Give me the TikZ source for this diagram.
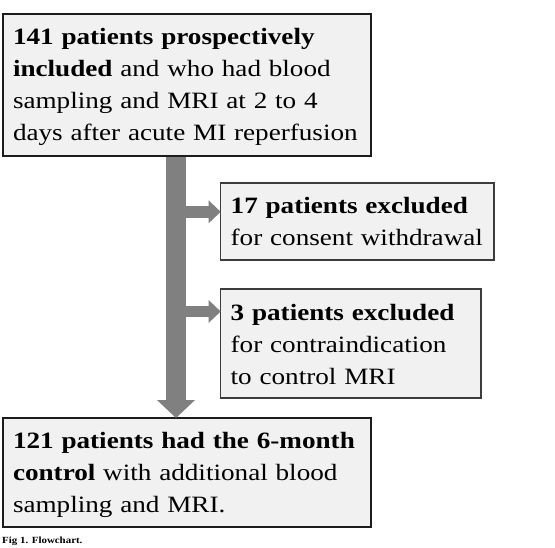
\documentclass[tikz,border=0pt]{standalone}
\usepackage{fontspec}
\setmainfont{Liberation Serif}[FakeStretch=1.16]
\usetikzlibrary{arrows.meta}
\definecolor{boxfill}{HTML}{F1F1F1}
\definecolor{darkline}{HTML}{1C1C1C}
\definecolor{sideline}{HTML}{3C3C3C}
\definecolor{arrowgray}{HTML}{808080}
\begin{document}
\begin{tikzpicture}[x=1pt,y=-1pt,
  box/.style={draw=darkline, line width=1.8pt, fill=boxfill, inner xsep=10pt, inner ysep=0pt,
    outer sep=0pt, anchor=north west, align=left, text height=30pt,
    font=\fontsize{23.4}{32}\selectfont},
  sidebox/.style={box, draw=sideline, line width=1.3pt},
  stemarrow/.style={draw=arrowgray, line width=20pt, -{Triangle[length=18pt,width=37pt]}},
  brancharrow/.style={draw=arrowgray, line width=11.5pt, -{Triangle[length=12pt,width=22pt]}}]
\fill[white] (0,0) rectangle (555,547);
\useasboundingbox (0,0) rectangle (555,547);
\node[box, text width=348pt, text depth=112pt] (top) at (3,14)
  {\mbox{\textbf{141 patients prospectively}}\\
   \mbox{\textbf{included} and who had blood}\\
   \mbox{sampling and MRI at 2 to 4}\\
   \mbox{days after acute MI reperfusion}};
\node[sidebox, text width=253.3pt, text depth=47pt] (ex1) at (220.7,183)
  {\mbox{\textbf{17 patients excluded}}\\
   \mbox{for consent withdrawal}};
\node[sidebox, text width=240.3pt, text height=31pt, text depth=78pt] (ex2) at (220.7,289)
  {\mbox{\textbf{3 patients excluded}}\\
   \mbox{for contraindication}\\
   \mbox{to control MRI}};
\node[box, text width=348pt, text depth=79pt] (bot) at (3,418)
  {\sbox0{\textbf{121 patients had the 6-month}}\usebox0\\
   \makebox[\wd0][s]{\textbf{control} with additional blood}\\
   \mbox{sampling and MRI.}};
\node[anchor=base west, inner sep=0pt, font=\bfseries\fontsize{9.4}{11}\selectfont] (cap) at (2,543.5) {Fig 1. Flowchart.};
\coordinate (sx) at (176,0);
\coordinate (br1) at (176,211.8);
\coordinate (br2) at (176,311.5);
\draw[stemarrow] ([yshift=-0.9pt]top.south -| sx) -- (bot.north -| sx);
\draw[brancharrow] (br1) -- (br1 -| ex1.west);
\draw[brancharrow] (br2) -- (br2 -| ex2.west);
\end{tikzpicture}
\end{document}
